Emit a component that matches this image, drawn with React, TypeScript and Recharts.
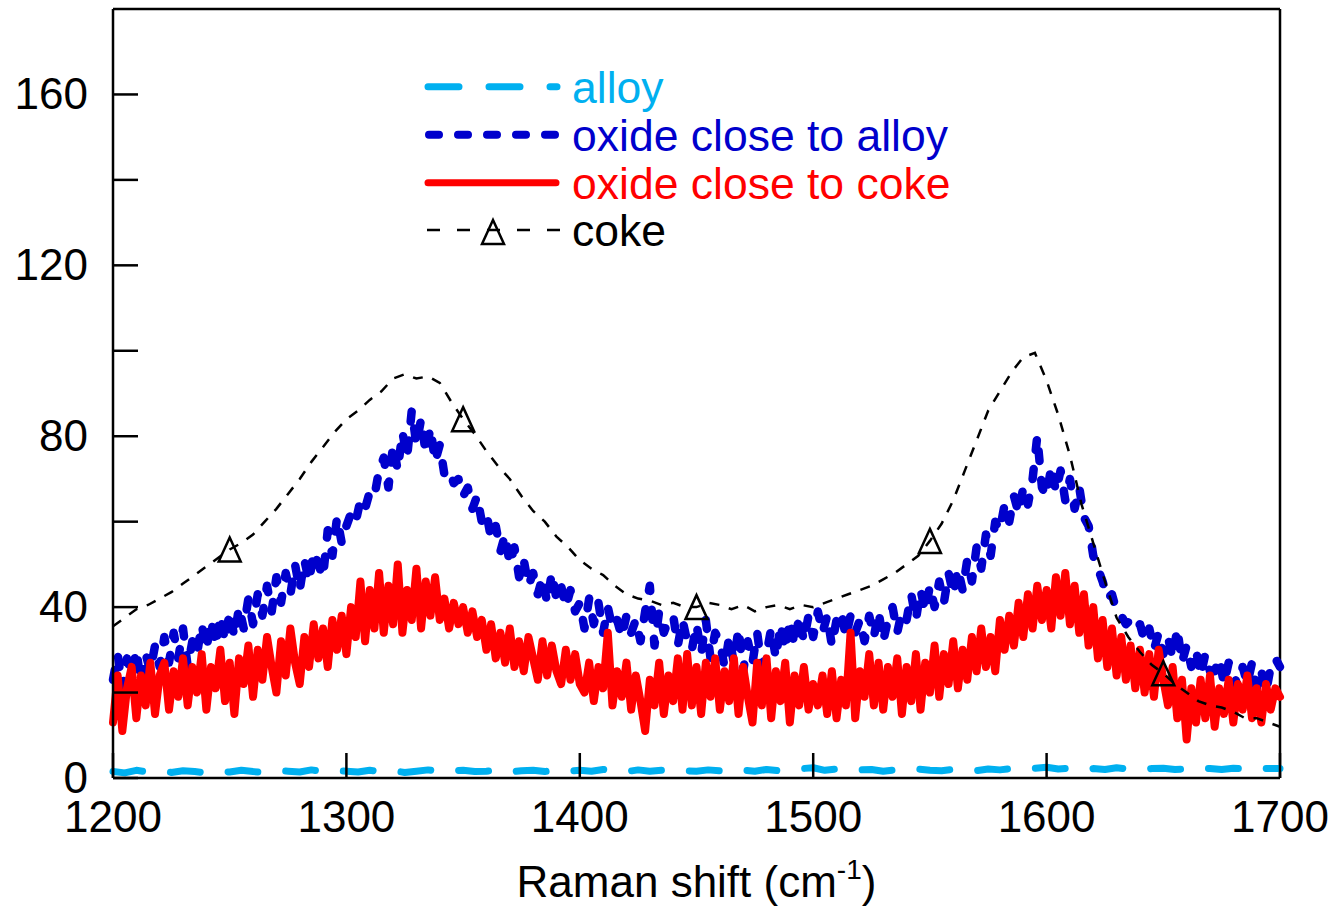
import React from 'react';
import { LineChart, Line, XAxis, YAxis, ReferenceLine, Legend, Label } from 'recharts';

// Raman spectra: alloy, oxide near alloy, oxide near coke, coke.
// Values (intensity, arbitrary units).

if (typeof document !== 'undefined') document.body.style.margin = '0';

const FONT = '"Liberation Sans", Arial, Helvetica, sans-serif';
const X_TICKS = [1200, 1300, 1400, 1500, 1600, 1700];
const Y_TICKS = [0, 20, 40, 60, 80, 100, 120, 140, 160];
const TRIANGLE_AT = [1250, 1350, 1450, 1550, 1650];

const CYAN = '#00B0F0';
const BLUE = '#0000CC';
const RED = '#FF0000';

// sampling grids (cm-1): start 1200
const ALLOY_STEP = 5;
const COKE_STEP = 5;
const OXIDE_STEP = 2;

// alloy, every 5 cm-1
const alloy = [
  1.5, 1.2, 1.8, 1.4, 1.6, 1.3, 1.7, 1.5, 1.2, 1.6,
  1.4, 1.8, 1.5, 1.3, 1.7, 1.6, 1.4, 1.9, 1.5, 1.7,
  1.6, 1.4, 1.8, 1.5, 1.7, 1.3, 1.6, 1.9, 1.5, 1.7,
  1.8, 1.5, 1.6, 1.9, 1.4, 1.7, 1.8, 1.5, 1.9, 1.6,
  1.8, 1.6, 2.0, 1.7, 1.5, 1.9, 1.6, 1.8, 2.0, 1.7,
  1.6, 1.9, 1.7, 2.1, 1.8, 1.6, 2.0, 1.7, 1.9, 2.2,
  2.4, 1.8, 2.1, 1.7, 1.9, 2.0, 1.6, 1.9, 1.8, 2.1,
  1.8, 1.7, 2.0, 1.9, 1.7, 2.1, 1.9, 2.2, 2.0, 2.3,
  2.5, 2.1, 2.3, 1.9, 2.2, 2.0, 2.4, 2.1, 1.9, 2.2,
  2.3, 2.0, 2.1, 2.4, 2.2, 2.0, 2.3, 2.1, 2.4, 2.2,
  2.2,
];

// oxide close to alloy, every 2 cm-1
const oxideAlloy = [
  23, 29, 21, 28, 24, 30, 22, 29, 25, 31,
  26, 33, 27, 34, 28, 35, 26, 32, 29, 36,
  30, 37, 31, 38, 32, 39, 33, 40, 35, 42,
  36, 43, 38, 45, 39, 47, 41, 48, 43, 50,
  44, 51, 46, 53, 50, 47, 58, 52, 61, 55,
  59, 62, 60, 65, 63, 67, 66, 72, 75, 68,
  78, 72, 81, 75, 86, 78, 84, 76, 82, 74,
  78, 71, 72, 69, 70, 66, 68, 63, 66, 60,
  62, 56, 59, 53, 57, 50, 54, 47, 51, 45,
  48, 43, 47, 41, 48, 42, 45, 40, 44, 39,
  41, 35, 42, 36, 41, 34, 40, 35, 37, 33,
  38, 34, 37, 32, 39, 45, 31, 39, 34, 37,
  38, 31, 37, 32, 30, 36, 29, 37, 28, 34,
  32, 26, 33, 27, 35, 25, 32, 27, 34, 26,
  29, 35, 28, 36, 30, 37, 31, 38, 32, 38,
  33, 39, 34, 38, 31, 37, 39, 33, 38, 34,
  37, 32, 38, 33, 39, 32, 37, 40, 34, 39,
  37, 43, 37, 44, 39, 45, 40, 46, 41, 48,
  43, 49, 44, 51, 46, 54, 49, 57, 52, 60,
  58, 64, 60, 66, 62, 68, 64, 70, 80, 68,
  66, 73, 67, 72, 65, 70, 63, 68, 61, 59,
  52, 49, 46, 42, 43, 39, 38, 36, 37, 35,
  36, 32, 35, 30, 34, 29, 33, 28, 35, 27,
  31, 26, 30, 24, 29, 25, 25, 28, 22, 27,
  25, 21, 26, 22, 27, 21, 25, 20, 26, 28,
  26,
];

// oxide close to coke, every 2 cm-1
const oxideCoke = [
  13, 24, 11, 21, 26, 14, 24, 17, 27, 15,
  24, 27, 16, 25, 19, 28, 17, 26, 20, 29,
  16, 26, 21, 30, 18, 27, 15, 28, 22, 31,
  19, 30, 23, 33, 26, 20, 32, 24, 35, 27,
  22, 33, 26, 36, 28, 35, 26, 37, 30, 38,
  29, 40, 33, 46, 32, 44, 35, 48, 34, 45,
  36, 50, 34, 44, 37, 49, 35, 46, 38, 47,
  37, 42, 35, 41, 36, 40, 34, 39, 33, 37,
  30, 36, 28, 34, 27, 35, 26, 32, 25, 33,
  28, 23, 32, 24, 31, 25, 22, 30, 23, 29,
  22, 20, 27, 18, 26, 21, 34, 17, 25, 19,
  27, 16, 24, 18, 11, 23, 17, 27, 15, 24,
  18, 28, 16, 29, 17, 26, 15, 27, 19, 28,
  16, 25, 18, 28, 15, 26, 19, 13, 27, 17,
  28, 14, 25, 18, 27, 13, 24, 17, 26, 16,
  22, 17, 24, 15, 25, 14, 23, 17, 34, 14,
  25, 19, 29, 17, 27, 16, 26, 19, 28, 15,
  26, 18, 29, 16, 27, 20, 31, 19, 29, 22,
  32, 21, 30, 23, 33, 25, 35, 26, 33, 25,
  37, 30, 38, 31, 41, 33, 43, 35, 45, 37,
  44, 35, 47, 38, 48, 36, 45, 34, 43, 31,
  40, 28, 37, 26, 35, 24, 33, 23, 31, 21,
  30, 20, 29, 19, 30, 23, 17, 26, 14, 23,
  9, 21, 13, 23, 14, 24, 12, 21, 15, 23,
  13, 22, 16, 24, 14, 21, 13, 22, 16, 21,
  19,
];

// coke, every 5 cm-1
const coke = [
  35.5, 37.5, 39.5, 40.5, 42, 43.5, 45.5, 47.5, 49.5, 51.5,
  53.5, 55, 57, 60, 63, 66.5, 70, 74, 77.5, 81,
  84, 86, 88.5, 90.5, 93.5, 94.5, 93.5, 94, 92.5, 88,
  84, 80.5, 76.5, 73, 70, 66, 62.5, 60, 56.5, 54,
  51, 49, 47.5, 45, 43, 42, 41.5, 40.5, 41, 40,
  40, 41, 40.5, 39.5, 40.5, 39, 40, 40.5, 39.5, 40.5,
  40, 41, 42, 43, 44, 45, 46.5, 48, 50, 52,
  55.5, 59.5, 65, 72, 79, 86, 90.5, 95, 98.5, 99.5,
  93, 85, 75.5, 64, 55, 46, 37.5, 33, 29.5, 26.5,
  24.5, 22, 20, 18, 17, 16.5, 15.5, 14, 14, 13,
  12,
];

const toRows = (vals: number[], step: number) => vals.map((v, i) => ({ x: 1200 + step * i, v }));

const alloyRows = toRows(alloy, ALLOY_STEP);
const oxideAlloyRows = toRows(oxideAlloy, OXIDE_STEP);
const oxideCokeRows = toRows(oxideCoke, OXIDE_STEP);
const cokeRows = toRows(coke, COKE_STEP);

function YTick(props: any) {
  const { x, y, payload } = props;
  const v = payload.value;
  return (
    <g>
      <line x1={x + 25} x2={x + 50} y1={y} y2={y} stroke="#000" strokeWidth={2.5} />
      {v % 40 === 0 && (
        <text x={x} y={y + 15} textAnchor="end" fontSize={44} fontFamily={FONT} fill="#000">
          {v}
        </text>
      )}
    </g>
  );
}

function XTick(props: any) {
  const { x, y, payload } = props;
  return (
    <g>
      <line x1={x} x2={x} y1={y} y2={y - 25} stroke="#000" strokeWidth={2.5} />
      <text x={x} y={y + 54} textAnchor="middle" fontSize={44} fontFamily={FONT} fill="#000">
        {payload.value}
      </text>
    </g>
  );
}

function AxisTitle(props: any) {
  const vb = props.viewBox || { x: 113, y: 778, width: 1167 };
  const cx = vb.x + vb.width / 2;
  return (
    <text x={cx} y={vb.y + 119} textAnchor="middle" fontSize={44} fontFamily={FONT} fill="#000">
      Raman shift (cm
      <tspan dy={-18} fontSize={28}>-1</tspan>
      <tspan dy={18}>)</tspan>
    </text>
  );
}

function CokeDot(props: any) {
  const { cx, cy, payload, index } = props;
  if (!TRIANGLE_AT.includes(payload.x)) return <g key={`d${index}`} />;
  return (
    <path
      key={`d${index}`}
      d={`M${cx},${cy - 12} L${cx + 11},${cy + 12} L${cx - 11},${cy + 12} Z`}
      fill="none"
      stroke="#000"
      strokeWidth={2.5}
      strokeLinejoin="miter"
    />
  );
}

function LegendBox() {
  const tx = 572;
  return (
    <svg width={1000} height={270} style={{ display: 'block' }}>
      <line x1={428} x2={557} y1={86.7} y2={86.7} stroke={CYAN} strokeWidth={7} strokeDasharray="31 30" strokeLinecap="round" />
      <text x={tx} y={102.7} fontSize={44.5} fontFamily={FONT} fill={CYAN}>alloy</text>

      <line x1={429} x2={556} y1={134.7} y2={134.7} stroke={BLUE} strokeWidth={8} strokeDasharray="10 19" strokeLinecap="round" />
      <text x={tx} y={150.7} fontSize={44.5} fontFamily={FONT} fill={BLUE}>oxide close to alloy</text>

      <line x1={428} x2={556} y1={182.7} y2={182.7} stroke={RED} strokeWidth={7} strokeLinecap="round" />
      <text x={tx} y={198.7} fontSize={44.5} fontFamily={FONT} fill={RED}>oxide close to coke</text>

      <line x1={427} x2={560} y1={230} y2={230} stroke="#000" strokeWidth={2.5} strokeDasharray="13 17" />
      <path d="M493,220 L504,244 L482,244 Z" fill="none" stroke="#000" strokeWidth={2.5} />
      <text x={tx} y={246} fontSize={44.5} fontFamily={FONT} fill="#000">coke</text>
    </svg>
  );
}

export default function App() {
  return (
    <div style={{ width: 1332, height: 908, fontFamily: FONT, background: '#fff' }}>
      <LineChart width={1332} height={908} margin={{ top: 9, right: 52, bottom: 0, left: 0 }}>
        <XAxis
          dataKey="x"
          type="number"
          domain={[1200, 1700]}
          ticks={X_TICKS}
          interval={0}
          height={130}
          tickSize={0}
          tickMargin={0}
          tickLine={false}
          axisLine={{ stroke: '#000', strokeWidth: 2.5 }}
          tick={<XTick />}
          allowDuplicatedCategory={false}
        >
          <Label content={<AxisTitle />} />
        </XAxis>
        <YAxis
          type="number"
          domain={[0, 180]}
          ticks={Y_TICKS}
          interval={0}
          width={113}
          tickSize={0}
          tickMargin={25}
          tickLine={false}
          axisLine={{ stroke: '#000', strokeWidth: 2.5 }}
          tick={<YTick />}
        />
        <ReferenceLine y={180} stroke="#000" strokeWidth={2.5} />
        <ReferenceLine x={1700} stroke="#000" strokeWidth={2.5} />

        <Line
          data={alloyRows}
          dataKey="v"
          name="alloy"
          type="linear"
          stroke={CYAN}
          strokeWidth={7}
          strokeDasharray="30 28"
          strokeLinecap="round"
          strokeLinejoin="round"
          dot={false}
          activeDot={false}
          isAnimationActive={false}
        />
        <Line
          data={oxideAlloyRows}
          dataKey="v"
          name="oxide close to alloy"
          type="linear"
          stroke={BLUE}
          strokeWidth={8.5}
          strokeDasharray="10 19"
          strokeLinecap="round"
          strokeLinejoin="round"
          dot={false}
          activeDot={false}
          isAnimationActive={false}
        />
        <Line
          data={oxideCokeRows}
          dataKey="v"
          name="oxide close to coke"
          type="linear"
          stroke={RED}
          strokeWidth={8}
          strokeLinecap="round"
          strokeLinejoin="round"
          dot={false}
          activeDot={false}
          isAnimationActive={false}
        />
        <Line
          data={cokeRows}
          dataKey="v"
          name="coke"
          type="linear"
          stroke="#000"
          strokeWidth={2.5}
          strokeDasharray="10 10"
          dot={<CokeDot />}
          activeDot={false}
          isAnimationActive={false}
        />

        <Legend
          layout="vertical"
          align="center"
          verticalAlign="middle"
          content={<LegendBox />}
          wrapperStyle={{ position: 'absolute', left: 0, top: 0, width: 1000, height: 270 }}
        />
      </LineChart>
    </div>
  );
}
